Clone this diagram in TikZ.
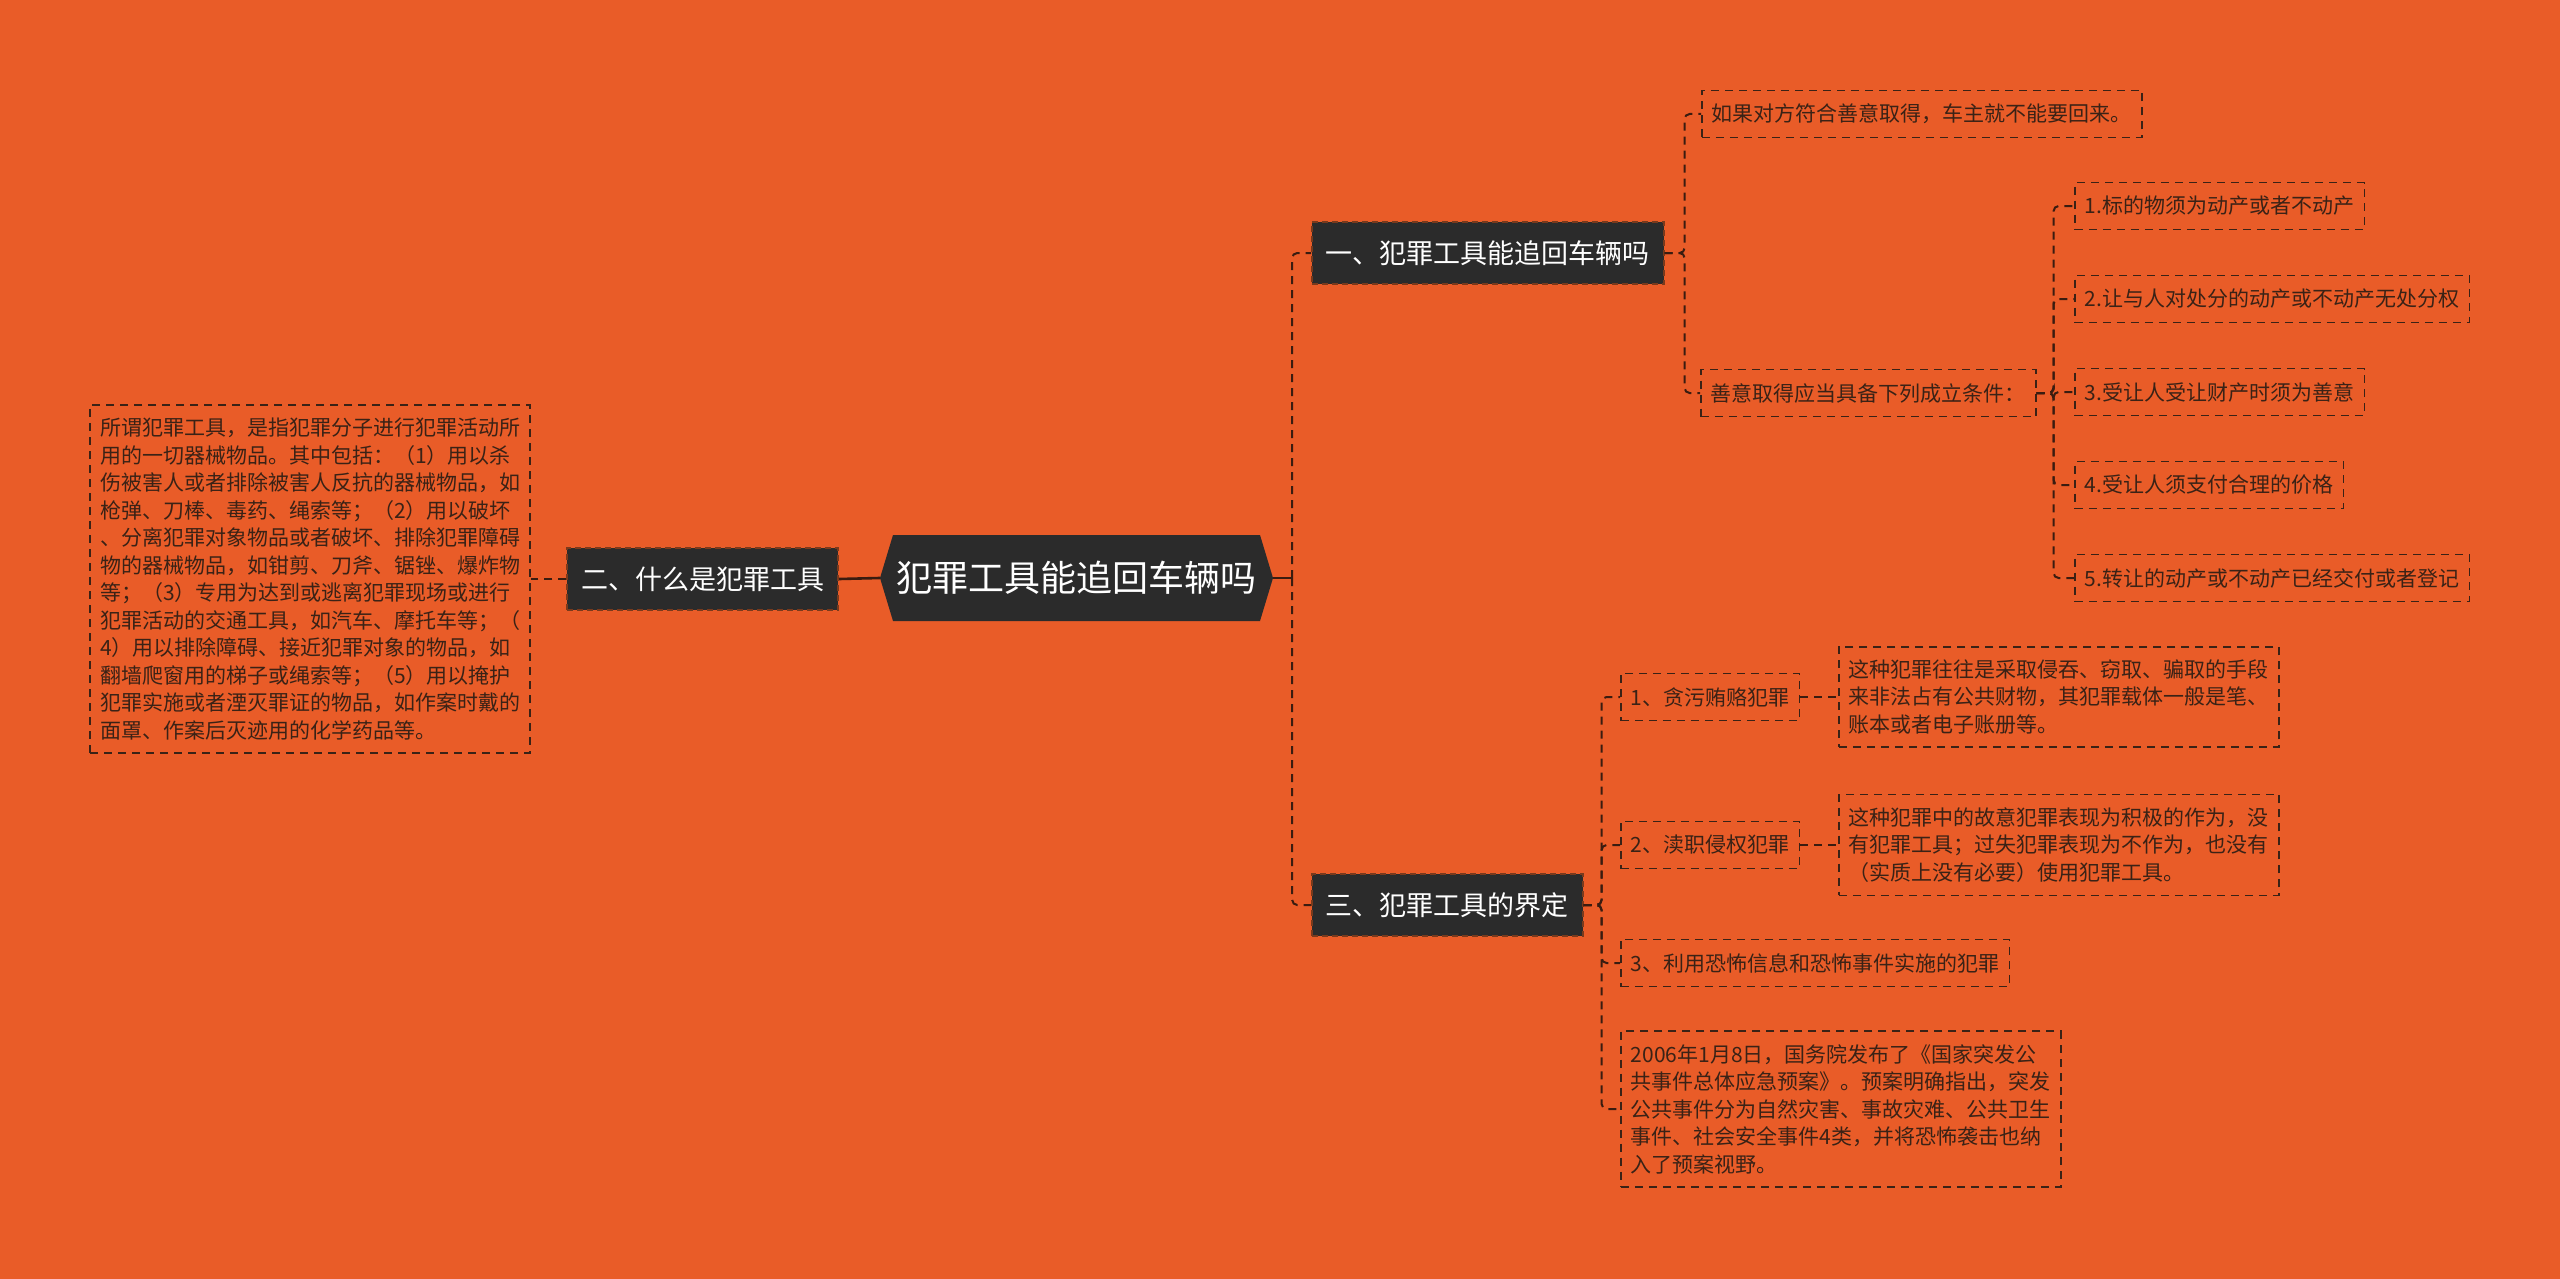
\documentclass[tikz,border=0pt]{standalone}
\usepackage{fontspec}
\setmainfont{Noto Sans CJK SC}
\definecolor{bg}{HTML}{E95C28}
\definecolor{ink}{HTML}{3A2216}
\definecolor{dark}{HTML}{2B2B2B}
\definecolor{edge}{HTML}{3A1C10}
\definecolor{bord}{HTML}{7A3A1C}
\begin{document}
\begin{tikzpicture}[x=1pt,y=-1pt,
  leaf/.style={draw=ink, dash pattern=on 8pt off 6pt, line width=1.6pt, text=ink,
    font=\fontsize{21}{27.5}\selectfont, align=left, inner xsep=10pt, inner ysep=10pt,
    minimum height=47pt, anchor=west},
  multi/.style={leaf, inner ysep=13pt},
  branch/.style={fill=dark, draw=bord, dash pattern=on 6pt off 4pt, line width=1.6pt,
    text=white, font=\fontsize{27}{32}\selectfont, inner xsep=14pt, minimum height=62pt},
  conn/.style={draw=edge, line width=2pt, dash pattern=on 8pt off 6pt, rounded corners=5pt},
  solidconn/.style={draw=edge, line width=2.6pt}]
\useasboundingbox (0,0) rectangle (2560,1279);
\fill[bg] (0,0) rectangle (2560,1279);

% root hexagon
\fill[dark] (880,578) -- (893,535) -- (1260,535) -- (1273,578) -- (1260,621) -- (893,621) -- cycle;
\node[text=white, font=\fontsize{36}{40}\selectfont, minimum width=393pt, minimum height=86pt, inner sep=0pt] (root) at (1076.5,578) {犯罪工具能追回车辆吗};

% branches
\node[branch, anchor=west] (b1) at (1311,253) {一、犯罪工具能追回车辆吗};
\node[branch, anchor=east] (b2) at (839,579) {二、什么是犯罪工具};
\node[branch, anchor=west] (b3) at (1311,905) {三、犯罪工具的界定};

% left text
\node[multi, anchor=east] (L) at (531,579) {所谓犯罪工具，是指犯罪分子进行犯罪活动所\\
用的一切器械物品。其中包括：（1）用以杀\\
伤被害人或者排除被害人反抗的器械物品，如\\
枪弹、刀棒、毒药、绳索等；（2）用以破坏\\
、分离犯罪对象物品或者破坏、排除犯罪障碍\\
物的器械物品，如钳剪、刀斧、锯锉、爆炸物\\
等；（3）专用为达到或逃离犯罪现场或进行\\
犯罪活动的交通工具，如汽车、摩托车等；（\\
4）用以排除障碍、接近犯罪对象的物品，如\\
翻墙爬窗用的梯子或绳索等；（5）用以掩护\\
犯罪实施或者湮灭罪证的物品，如作案时戴的\\
面罩、作案后灭迹用的化学药品等。};

% branch 1 children
\node[leaf] (a1) at (1701,114) {如果对方符合善意取得，车主就不能要回来。};
\node[leaf] (a2) at (1700,393) {善意取得应当具备下列成立条件：};
\node[leaf] (c1) at (2074,206) {1.标的物须为动产或者不动产};
\node[leaf] (c2) at (2074,299) {2.让与人对处分的动产或不动产无处分权};
\node[leaf] (c3) at (2074,392) {3.受让人受让财产时须为善意};
\node[leaf] (c4) at (2074,485) {4.受让人须支付合理的价格};
\node[leaf] (c5) at (2074,578) {5.转让的动产或不动产已经交付或者登记};

% branch 3 children
\node[leaf] (d1) at (1620,697) {1、贪污贿赂犯罪};
\node[multi] (d1t) at (1838,697) {这种犯罪往往是采取侵吞、窃取、骗取的手段\\
来非法占有公共财物，其犯罪载体一般是笔、\\
账本或者电子账册等。};
\node[leaf] (d2) at (1620,845) {2、渎职侵权犯罪};
\node[multi] (d2t) at (1838,845) {这种犯罪中的故意犯罪表现为积极的作为，没\\
有犯罪工具；过失犯罪表现为不作为，也没有\\
（实质上没有必要）使用犯罪工具。};
\node[leaf] (d3) at (1620,963) {3、利用恐怖信息和恐怖事件实施的犯罪};
\node[multi] (d4) at (1620,1109) {2006年1月8日，国务院发布了《国家突发公\\
共事件总体应急预案》。预案明确指出，突发\\
公共事件分为自然灾害、事故灾难、公共卫生\\
事件、社会安全事件4类，并将恐怖袭击也纳\\
入了预案视野。};

% connectors
\draw[solidconn] (root.east) -- ++(19,0);
\draw[solidconn] (root.west) -- (b2.east);
\draw[conn] (root.east) ++(19,0) |- (b1.west);
\draw[conn] (root.east) ++(19,0) |- (b3.west);
\draw[conn] (b2.west) -- (L.east);

\draw[conn] (b1.east) -- ++(20,0) |- (a1.west);
\draw[conn] (b1.east) -- ++(20,0) |- (a2.west);
\foreach \c in {c1,c2,c3,c4,c5}
  \draw[conn] (a2.east) -- ++(17,0) |- (\c.west);

\foreach \c in {d1,d2,d3,d4}
  \draw[conn] (b3.east) -- ++(18,0) |- (\c.west);
\draw[conn] (d1.east) -- (d1t.west);
\draw[conn] (d2.east) -- (d2t.west);
\end{tikzpicture}
\end{document}
